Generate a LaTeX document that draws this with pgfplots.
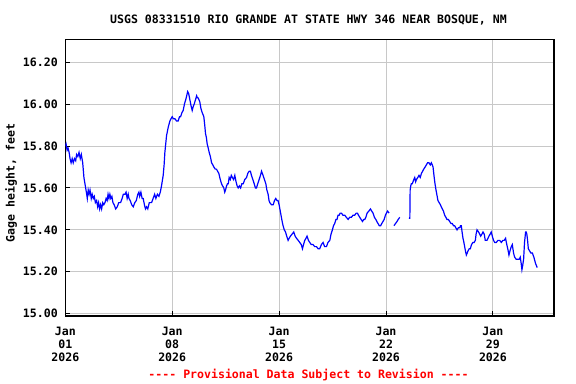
\documentclass[border=0pt]{standalone}
\usepackage{fontspec}
\setmainfont{DejaVu Sans Mono}[Ligatures=TeXOff]
\usepackage{pgfplots}
\pgfplotsset{compat=1.18}
\definecolor{gridgray}{RGB}{200,200,200}
\newcommand{\lblfont}{\fontsize{11.6}{13}\selectfont\bfseries}
\begin{document}
\begin{tikzpicture}
\useasboundingbox (-65.3bp,-68bp) rectangle (510.7bp,316bp);
\begin{axis}[
  at={(0,0)}, anchor=south west,
  scale only axis, width=488.7bp, height=276.7bp,
  xmin=0, xmax=32, ymin=14.989, ymax=16.3095,
  xtick={0,7,14,21,28},
  xticklabels={{Jan\\01\\2026},{Jan\\08\\2026},{Jan\\15\\2026},{Jan\\22\\2026},{Jan\\29\\2026}},
  ytick={15,15.2,15.4,15.6,15.8,16,16.2},
  yticklabels={15.00,15.20,15.40,15.60,15.80,16.00,16.20},
  grid=major, grid style={color=gridgray, line width=1bp},
  axis line style={line width=1.2bp, black},
  tick align=inside, tick pos=left, major tick length=5bp,
  tick style={black, line width=1bp},
  xticklabel style={align=center, font=\lblfont, yshift=-8bp},
  yticklabel style={font=\lblfont, xshift=-4bp},
]
\addplot[blue, line width=1.2bp] coordinates {
(0.00,15.80)(0.05,15.81)(0.12,15.78)(0.18,15.79)(0.25,15.77)(0.31,15.74)(0.38,15.72)(0.45,15.74)(0.52,15.72)(0.60,15.74)(0.68,15.73)(0.74,15.76)(0.82,15.75)(0.90,15.77)(0.98,15.74)(1.05,15.76)(1.14,15.72)(1.22,15.65)(1.31,15.61)(1.38,15.58)(1.44,15.55)(1.50,15.59)(1.56,15.57)(1.62,15.59)(1.70,15.55)(1.76,15.57)(1.83,15.55)(1.90,15.56)(1.97,15.53)(2.05,15.54)(2.12,15.51)(2.18,15.53)(2.25,15.50)(2.31,15.52)(2.38,15.50)(2.45,15.53)(2.52,15.52)(2.60,15.53)(2.67,15.55)(2.74,15.54)(2.80,15.57)(2.86,15.55)(2.92,15.57)(2.98,15.55)(3.05,15.56)(3.12,15.53)(3.20,15.52)(3.30,15.50)(3.40,15.51)(3.50,15.53)(3.62,15.53)(3.72,15.55)(3.80,15.57)(3.91,15.57)(3.98,15.58)(4.05,15.55)(4.12,15.57)(4.17,15.55)(4.25,15.54)(4.35,15.52)(4.45,15.51)(4.55,15.53)(4.65,15.54)(4.75,15.57)(4.82,15.58)(4.87,15.56)(4.95,15.58)(5.03,15.55)(5.10,15.55)(5.18,15.52)(5.25,15.50)(5.32,15.51)(5.40,15.50)(5.50,15.53)(5.65,15.53)(5.75,15.55)(5.85,15.57)(5.93,15.55)(6.03,15.57)(6.13,15.56)(6.22,15.58)(6.30,15.61)(6.41,15.66)(6.47,15.71)(6.52,15.77)(6.63,15.85)(6.74,15.89)(6.85,15.92)(6.92,15.93)(7.00,15.94)(7.08,15.93)(7.18,15.93)(7.28,15.92)(7.39,15.92)(7.48,15.94)(7.55,15.94)(7.64,15.96)(7.72,15.97)(7.80,16.00)(7.88,16.02)(7.95,16.04)(8.01,16.06)(8.08,16.05)(8.16,16.02)(8.24,15.99)(8.31,15.97)(8.38,15.99)(8.44,16.00)(8.52,16.02)(8.60,16.04)(8.65,16.03)(8.70,16.03)(8.76,16.02)(8.81,16.01)(8.88,15.98)(8.96,15.96)(9.02,15.95)(9.07,15.94)(9.13,15.90)(9.18,15.86)(9.24,15.84)(9.29,15.81)(9.36,15.79)(9.42,15.77)(9.50,15.75)(9.58,15.72)(9.66,15.71)(9.73,15.70)(9.82,15.69)(9.90,15.69)(9.97,15.68)(10.05,15.67)(10.15,15.64)(10.23,15.62)(10.30,15.61)(10.38,15.60)(10.44,15.58)(10.49,15.59)(10.56,15.61)(10.62,15.62)(10.67,15.62)(10.73,15.65)(10.80,15.64)(10.87,15.66)(10.94,15.65)(11.02,15.64)(11.10,15.66)(11.18,15.63)(11.25,15.61)(11.32,15.60)(11.40,15.61)(11.48,15.60)(11.56,15.62)(11.65,15.62)(11.75,15.64)(11.87,15.65)(11.95,15.67)(12.04,15.68)(12.12,15.68)(12.19,15.66)(12.28,15.64)(12.37,15.62)(12.45,15.60)(12.52,15.60)(12.60,15.62)(12.69,15.64)(12.78,15.66)(12.85,15.68)(12.90,15.67)(12.95,15.66)(13.04,15.64)(13.13,15.62)(13.20,15.59)(13.28,15.57)(13.34,15.54)(13.39,15.53)(13.50,15.52)(13.61,15.52)(13.70,15.54)(13.78,15.55)(13.86,15.54)(13.93,15.54)(14.00,15.52)(14.05,15.50)(14.10,15.48)(14.15,15.46)(14.20,15.44)(14.26,15.42)(14.34,15.40)(14.42,15.39)(14.50,15.37)(14.59,15.35)(14.66,15.36)(14.74,15.37)(14.85,15.38)(14.96,15.39)(15.05,15.37)(15.14,15.36)(15.25,15.35)(15.35,15.34)(15.45,15.33)(15.53,15.31)(15.60,15.33)(15.68,15.35)(15.76,15.36)(15.83,15.37)(15.92,15.35)(16.01,15.34)(16.10,15.33)(16.22,15.33)(16.33,15.32)(16.45,15.32)(16.55,15.31)(16.66,15.31)(16.77,15.33)(16.88,15.34)(16.98,15.32)(17.10,15.32)(17.20,15.34)(17.32,15.35)(17.40,15.38)(17.49,15.40)(17.56,15.42)(17.64,15.43)(17.72,15.45)(17.79,15.45)(17.86,15.47)(17.93,15.47)(18.00,15.48)(18.08,15.48)(18.18,15.47)(18.30,15.47)(18.40,15.46)(18.52,15.45)(18.62,15.46)(18.73,15.46)(18.84,15.47)(18.95,15.47)(19.05,15.48)(19.13,15.48)(19.20,15.47)(19.28,15.46)(19.37,15.45)(19.46,15.44)(19.54,15.45)(19.61,15.45)(19.68,15.46)(19.76,15.48)(19.88,15.49)(19.98,15.50)(20.06,15.49)(20.15,15.48)(20.24,15.46)(20.33,15.45)(20.40,15.44)(20.48,15.43)(20.56,15.42)(20.65,15.42)(20.72,15.43)(20.80,15.44)(20.88,15.45)(20.96,15.47)(21.03,15.48)(21.10,15.49)(21.20,15.48)
};
\addplot[blue, line width=1.2bp] coordinates {
(21.52,15.42)(21.62,15.43)(21.72,15.44)(21.80,15.45)(21.90,15.46)
};
\addplot[blue, line width=1.2bp] coordinates {
(22.50,15.455)(22.56,15.455)(22.58,15.59)(22.62,15.61)(22.66,15.62)(22.72,15.62)(22.77,15.63)(22.82,15.64)(22.88,15.65)(22.94,15.63)(22.99,15.64)(23.08,15.65)(23.16,15.66)(23.24,15.65)(23.32,15.67)(23.40,15.68)(23.47,15.69)(23.56,15.70)(23.64,15.71)(23.72,15.72)(23.81,15.72)(23.90,15.71)(23.97,15.72)(24.03,15.71)(24.08,15.70)(24.14,15.66)(24.19,15.63)(24.25,15.60)(24.30,15.58)(24.35,15.56)(24.40,15.54)(24.48,15.53)(24.56,15.52)(24.62,15.51)(24.69,15.50)(24.76,15.49)(24.84,15.47)(24.92,15.46)(24.99,15.45)(25.08,15.45)(25.17,15.44)(25.26,15.43)(25.34,15.43)(25.42,15.42)(25.49,15.42)(25.57,15.41)(25.65,15.40)(25.74,15.41)(25.82,15.41)(25.88,15.42)(25.93,15.42)(25.98,15.39)(26.04,15.36)(26.10,15.34)(26.15,15.32)(26.20,15.30)(26.26,15.28)(26.32,15.29)(26.37,15.30)(26.45,15.31)(26.52,15.31)(26.60,15.33)(26.69,15.34)(26.77,15.34)(26.85,15.35)(26.90,15.38)(26.96,15.40)(27.06,15.39)(27.13,15.38)(27.20,15.37)(27.28,15.38)(27.35,15.39)(27.43,15.38)(27.50,15.35)(27.56,15.35)(27.61,15.35)(27.68,15.36)(27.74,15.37)(27.82,15.38)(27.89,15.39)(27.96,15.37)(28.04,15.35)(28.12,15.34)(28.22,15.34)(28.33,15.35)(28.44,15.35)(28.55,15.34)(28.65,15.35)(28.74,15.35)(28.83,15.36)(28.88,15.34)(28.94,15.32)(29.00,15.30)(29.05,15.28)(29.12,15.30)(29.20,15.32)(29.27,15.33)(29.31,15.31)(29.35,15.29)(29.42,15.27)(29.52,15.26)(29.64,15.26)(29.72,15.26)(29.79,15.27)(29.85,15.24)(29.90,15.21)(29.95,15.23)(30.01,15.26)(30.04,15.30)(30.07,15.34)(30.14,15.39)(30.18,15.39)(30.22,15.38)(30.27,15.35)(30.32,15.31)(30.40,15.30)(30.48,15.29)(30.58,15.29)(30.68,15.27)(30.79,15.24)(30.90,15.22)
};
\end{axis}
\node[font=\lblfont] at (243.2bp,296bp) {USGS 08331510 RIO GRANDE AT STATE HWY 346 NEAR BOSQUE, NM};
\node[font=\lblfont, rotate=90] at (-54.3bp,133bp) {Gage height, feet};
\node[font=\lblfont, text=red] at (243.2bp,-59bp) {---- Provisional Data Subject to Revision ----};
\end{tikzpicture}
\end{document}
